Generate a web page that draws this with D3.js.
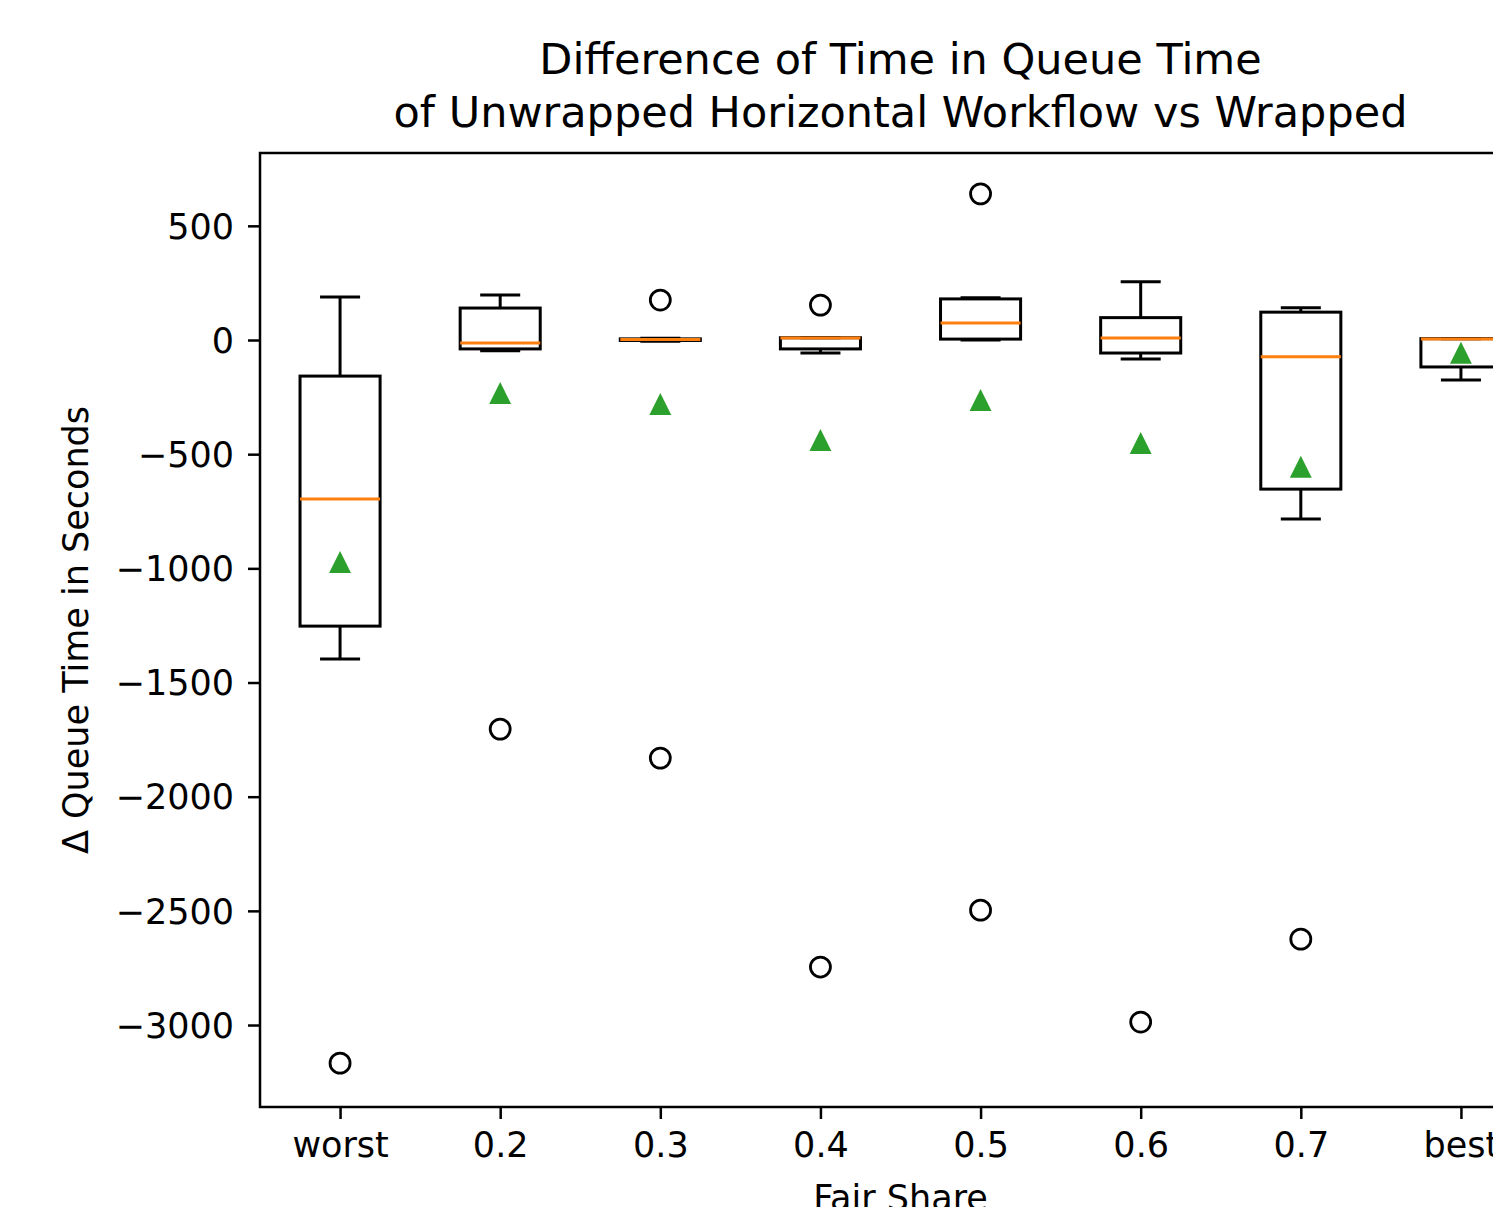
<!DOCTYPE html>
<html>
<head>
<meta charset="utf-8">
<script src="https://cdn.jsdelivr.net/npm/d3@7"></script>
<style>
  body { margin: 0; background: #fff; }
  text { font-family: "DejaVu Sans", sans-serif; fill: #000; }
</style>
</head>
<body>
<div id="chart"></div>
<script>
// categories on the x axis
var categories = ["worst", "0.2", "0.3", "0.4", "0.5", "0.6", "0.7", "best"];

// box statistics (seconds)
var whiskerLow  = [-1397,  -47,  -5,  -57,   0,  -83, -784, -175];
var q1          = [-1253,  -39,  -2,  -39,   4,  -57, -653, -118];
var medians     = [ -696,  -13,   2,    9,  74,    9,  -73,    4];
var q3          = [ -158,  140,   5,   10, 180,   98,  122,    6];
var whiskerHigh = [  188,  197,   8,   10, 185,  255,  141,    6];
var means       = [ -972, -232, -280, -438, -263, -451, -555,  -56];
var outliers    = [[-3167], [-1704], [175, -1831], [153, -2746], [640, -2497], [-2987], [-2624], []];

var yTicks = [500, 0, -500, -1000, -1500, -2000, -2500, -3000];

var W = 1493, H = 1207;
var mLeft = 260, mRight = 1541, mTop = 153, mBottom = 1107;

var svg = d3.select("#chart")
    .append("svg")
    .attr("width", W)
    .attr("height", H);

// scales
var xScale = d3.scaleLinear().domain([0.5, 8.5]).range([mLeft, mRight]);
var yScale = d3.scaleLinear().domain([-3359, 819]).range([mBottom, mTop]);

var boxHalf = xScale(1.25) - xScale(1);   // widths 0.5
var capHalf = xScale(1.125) - xScale(1);  // caps 0.25

var g = svg.append("g");

// y axis
var yAxis = d3.axisLeft(yScale)
    .tickValues(yTicks)
    .tickSize(12)
    .tickPadding(14)
    .tickFormat(function(d) { return d < 0 ? "\u2212" + Math.abs(d) : d; });

var yg = svg.append("g")
    .attr("transform", "translate(" + mLeft + ",0)")
    .call(yAxis);
yg.select(".domain").remove();
yg.selectAll("line").attr("stroke", "#000").attr("stroke-width", 2.5);
yg.selectAll("text").style("font-size", "35px").attr("dy", "0.35em");

// x axis
var xAxis = d3.axisBottom(xScale)
    .tickValues(d3.range(1, categories.length + 1))
    .tickSize(12)
    .tickPadding(12)
    .tickFormat(function(d) { return categories[d - 1]; });

var xg = svg.append("g")
    .attr("transform", "translate(0," + mBottom + ")")
    .call(xAxis);
xg.select(".domain").remove();
xg.selectAll("line").attr("stroke", "#000").attr("stroke-width", 2.5);
xg.selectAll("text").style("font-size", "35px").attr("dy", "0.75em");

// boxes
var boxes = g.selectAll(".box")
    .data(categories)
    .enter().append("g")
    .attr("class", "box");

// whiskers
boxes.append("line")
    .attr("x1", function(d, i) { return xScale(i + 1); })
    .attr("x2", function(d, i) { return xScale(i + 1); })
    .attr("y1", function(d, i) { return yScale(whiskerLow[i]); })
    .attr("y2", function(d, i) { return yScale(q1[i]); })
    .attr("stroke", "#000").attr("stroke-width", 3);
boxes.append("line")
    .attr("x1", function(d, i) { return xScale(i + 1); })
    .attr("x2", function(d, i) { return xScale(i + 1); })
    .attr("y1", function(d, i) { return yScale(q3[i]); })
    .attr("y2", function(d, i) { return yScale(whiskerHigh[i]); })
    .attr("stroke", "#000").attr("stroke-width", 3);

// caps
[whiskerLow, whiskerHigh].forEach(function(arr) {
    boxes.append("line")
        .attr("x1", function(d, i) { return xScale(i + 1) - capHalf; })
        .attr("x2", function(d, i) { return xScale(i + 1) + capHalf; })
        .attr("y1", function(d, i) { return yScale(arr[i]); })
        .attr("y2", function(d, i) { return yScale(arr[i]); })
        .attr("stroke", "#000").attr("stroke-width", 3);
});

// box body
boxes.append("rect")
    .attr("x", function(d, i) { return xScale(i + 1) - boxHalf; })
    .attr("width", boxHalf * 2)
    .attr("y", function(d, i) { return yScale(q3[i]); })
    .attr("height", function(d, i) { return Math.max(yScale(q1[i]) - yScale(q3[i]), 0.5); })
    .attr("fill", "none")
    .attr("stroke", "#000").attr("stroke-width", 3);

// median
boxes.append("line")
    .attr("x1", function(d, i) { return xScale(i + 1) - boxHalf; })
    .attr("x2", function(d, i) { return xScale(i + 1) + boxHalf; })
    .attr("y1", function(d, i) { return yScale(medians[i]); })
    .attr("y2", function(d, i) { return yScale(medians[i]); })
    .attr("stroke", "#ff7f0e").attr("stroke-width", 3);

// outliers
boxes.each(function(d, i) {
    d3.select(this).selectAll("circle")
        .data(outliers[i])
        .enter().append("circle")
        .attr("cx", xScale(i + 1))
        .attr("cy", function(v) { return yScale(v); })
        .attr("r", 10)
        .attr("fill", "none")
        .attr("stroke", "#000").attr("stroke-width", 2.8);
});

// means (green triangles, centred on their box like matplotlib's "^")
var triUp = {
    draw: function(context, size) {
        var s = Math.sqrt(size) / 2;
        context.moveTo(0, -s);
        context.lineTo(s, s);
        context.lineTo(-s, s);
        context.closePath();
    }
};
var tri = d3.symbol().type(triUp).size(480);
boxes.append("path")
    .attr("d", tri)
    .attr("transform", function(d, i) { return "translate(" + xScale(i + 1) + "," + yScale(means[i]) + ")"; })
    .attr("fill", "#2ca02c");

// frame
svg.append("rect")
    .attr("x", mLeft).attr("y", mTop)
    .attr("width", mRight - mLeft).attr("height", mBottom - mTop)
    .attr("fill", "none")
    .attr("stroke", "#000").attr("stroke-width", 2.5);

// titles and labels
svg.append("text")
    .attr("x", (mLeft + mRight) / 2).attr("y", 74)
    .attr("text-anchor", "middle")
    .style("font-size", "43px")
    .text("Difference of Time in Queue Time");
svg.append("text")
    .attr("x", (mLeft + mRight) / 2).attr("y", 127)
    .attr("text-anchor", "middle")
    .style("font-size", "43px")
    .text("of Unwrapped Horizontal Workflow vs Wrapped");

svg.append("text")
    .attr("x", (mLeft + mRight) / 2).attr("y", 1210)
    .attr("text-anchor", "middle")
    .style("font-size", "35px")
    .text("Fair Share");

svg.append("text")
    .attr("transform", "translate(88," + ((mTop + mBottom) / 2) + ") rotate(-90)")
    .attr("text-anchor", "middle")
    .style("font-size", "35px")
    .text("\u0394 Queue Time in Seconds");
</script>
</body>
</html>
